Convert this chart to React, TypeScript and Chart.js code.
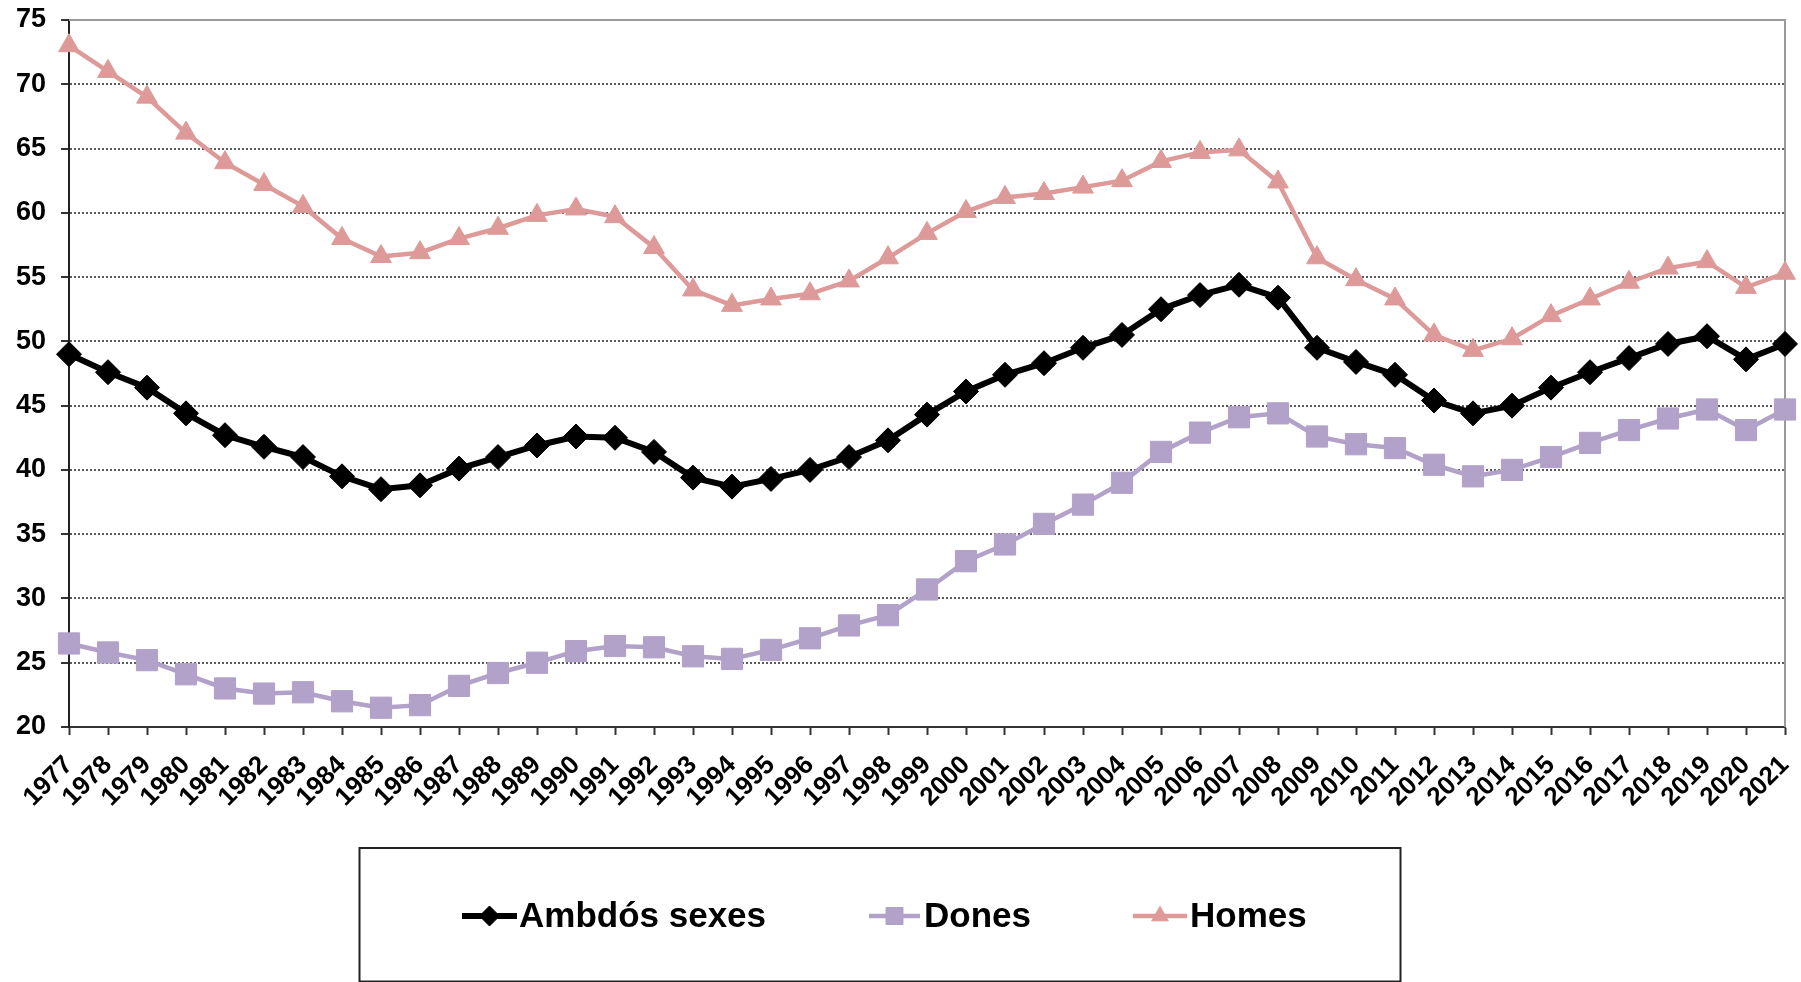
import React, { useEffect, useRef } from "react";
import { Chart, registerables } from "chart.js";
import { drawPoint } from "chart.js/helpers";

Chart.register(...registerables);

// Years on the category axis
const years = [
  "1977", "1978", "1979", "1980", "1981", "1982", "1983", "1984", "1985", "1986",
  "1987", "1988", "1989", "1990", "1991", "1992", "1993", "1994", "1995", "1996",
  "1997", "1998", "1999", "2000", "2001", "2002", "2003", "2004", "2005", "2006",
  "2007", "2008", "2009", "2010", "2011", "2012", "2013", "2014", "2015", "2016",
  "2017", "2018", "2019", "2020", "2021",
];

// Series values (%)
const ambdosSexes = [
  49.0, 47.6, 46.4, 44.4, 42.7, 41.8, 41.0, 39.5, 38.5, 38.8,
  40.1, 41.0, 41.9, 42.6, 42.5, 41.4, 39.4, 38.7, 39.3, 40.0,
  41.0, 42.3, 44.3, 46.1, 47.4, 48.3, 49.5, 50.5, 52.5, 53.6,
  54.4, 53.4, 49.5, 48.4, 47.4, 45.4, 44.4, 45.0, 46.4, 47.6,
  48.7, 49.8, 50.4, 48.6, 49.8,
];

const dones = [
  26.5, 25.8, 25.2, 24.1, 23.0, 22.6, 22.7, 22.0, 21.5, 21.7,
  23.2, 24.2, 25.0, 25.9, 26.3, 26.2, 25.5, 25.3, 26.0, 26.9,
  27.9, 28.7, 30.7, 32.9, 34.2, 35.8, 37.3, 39.0, 41.4, 42.9,
  44.1, 44.4, 42.6, 42.0, 41.7, 40.4, 39.5, 40.0, 41.0, 42.1,
  43.1, 44.0, 44.7, 43.1, 44.7,
];

const homes = [
  73.0, 71.0, 69.0, 66.2, 63.9, 62.2, 60.5, 58.0, 56.6, 56.9,
  58.0, 58.8, 59.8, 60.3, 59.7, 57.3, 54.0, 52.8, 53.3, 53.7,
  54.7, 56.5, 58.4, 60.1, 61.2, 61.5, 62.0, 62.5, 64.0, 64.7,
  64.9, 62.4, 56.5, 54.8, 53.3, 50.5, 49.3, 50.2, 52.0, 53.3,
  54.6, 55.7, 56.2, 54.2, 55.3,
];

const seriesNames = ["Ambdós sexes", "Dones", "Homes"];

const Y_MIN = 20;
const Y_MAX = 75;
const Y_STEP = 5;

const FONT = "'Liberation Sans', Arial, Helvetica, sans-serif";

// Frame lines on the top and right of the plot area
const plotFrame = {
  id: "plotFrame",
  beforeDatasetsDraw(chart: any) {
    const { ctx, chartArea } = chart;
    ctx.save();
    ctx.strokeStyle = "#9a9a9a";
    ctx.lineWidth = 2;
    ctx.beginPath();
    ctx.moveTo(chartArea.left, chartArea.top);
    ctx.lineTo(chartArea.right, chartArea.top);
    ctx.lineTo(chartArea.right, chartArea.bottom);
    ctx.stroke();
    ctx.restore();
  },
};

// Boxed legend under the axis, each entry a line segment with its marker
const boxedLegend = {
  id: "boxedLegend",
  afterDraw(chart: any) {
    const { ctx } = chart;
    const box = { left: 359.5, right: 1400.5, top: 848, bottom: 981.5 };
    const cy = 916;
    const entries = [
      { x1: 462, x2: 517, tx: 519 },
      { x1: 869, x2: 920, tx: 924 },
      { x1: 1133, x2: 1187, tx: 1190 },
    ];
    ctx.save();
    ctx.strokeStyle = "#222";
    ctx.lineWidth = 2;
    ctx.strokeRect(box.left, box.top, box.right - box.left, box.bottom - box.top);

    chart.data.datasets.forEach((ds: any, i: number) => {
      const e = entries[i];
      ctx.save();
      ctx.strokeStyle = ds.borderColor;
      ctx.lineWidth = ds.borderWidth;
      ctx.beginPath();
      ctx.moveTo(e.x1, cy);
      ctx.lineTo(e.x2, cy);
      ctx.stroke();
      ctx.fillStyle = ds.pointBackgroundColor;
      ctx.strokeStyle = ds.pointBorderColor;
      ctx.lineWidth = ds.pointBorderWidth;
      drawPoint(
        ctx,
        {
          pointStyle: ds.pointStyle,
          radius: ds.pointRadius * 0.8,
          rotation: 0,
          borderWidth: ds.pointBorderWidth,
        } as any,
        (e.x1 + e.x2) / 2,
        cy
      );
      ctx.restore();

      ctx.fillStyle = "#000";
      ctx.font = `bold 35px ${FONT}`;
      ctx.textAlign = "left";
      ctx.textBaseline = "middle";
      ctx.fillText(ds.label, e.tx, cy + 1);
    });
    ctx.restore();
  },
};

export default function App() {
  const canvasRef = useRef<HTMLCanvasElement | null>(null);

  useEffect(() => {
    document.body.style.margin = "0";
    document.body.style.overflow = "hidden";
    const canvas = canvasRef.current;
    if (!canvas) return;

    const chart = new Chart(canvas, {
      type: "line",
      data: {
        labels: years,
        datasets: [
          {
            label: seriesNames[0],
            data: ambdosSexes,
            borderColor: "#000000",
            backgroundColor: "#000000",
            borderWidth: 6,
            pointStyle: "rectRot",
            pointRadius: 12.5,
            pointBackgroundColor: "#000000",
            pointBorderColor: "#000000",
            pointBorderWidth: 1,
            tension: 0,
            clip: false,
          },
          {
            label: seriesNames[1],
            data: dones,
            borderColor: "#b2a1c8",
            backgroundColor: "#b2a1c8",
            borderWidth: 4.5,
            pointStyle: "rect",
            pointRadius: 15,
            pointBackgroundColor: "#b2a1c8",
            pointBorderColor: "#b2a1c8",
            pointBorderWidth: 1,
            tension: 0,
            clip: false,
          },
          {
            label: seriesNames[2],
            data: homes,
            borderColor: "#dd9a99",
            backgroundColor: "#dd9a99",
            borderWidth: 4.5,
            pointStyle: "triangle",
            pointRadius: 12,
            pointBackgroundColor: "#dd9a99",
            pointBorderColor: "#dd9a99",
            pointBorderWidth: 1,
            tension: 0,
            clip: false,
          },
        ],
      },
      options: {
        responsive: false,
        animation: false,
        events: [],
        layout: { padding: { left: 0, top: 20, right: 13, bottom: 0 } },
        plugins: {
          legend: { display: false },
          tooltip: { enabled: false },
          title: { display: false },
        },
        scales: {
          x: {
            type: "category",
            offset: false,
            afterFit(scale: any) {
              scale.height = 982 - 727;
              scale.paddingLeft = 0;
              scale.paddingRight = 0;
            },
            grid: {
              drawOnChartArea: false,
              drawTicks: true,
              tickLength: 8,
              tickColor: "#333",
              tickWidth: 2,
            },
            border: { display: true, color: "#333", width: 2 },
            ticks: {
              autoSkip: false,
              maxRotation: 45,
              minRotation: 45,
              padding: 15,
              color: "#000",
              font: { family: FONT, size: 26, weight: "bold" },
            },
          },
          y: {
            min: Y_MIN,
            max: Y_MAX,
            afterFit(scale: any) {
              scale.width = 69;
              scale.paddingTop = 0;
              scale.paddingBottom = 0;
            },
            grid: {
              color: (c: any) =>
                c.tick && (c.tick.value === Y_MAX || c.tick.value === Y_MIN)
                  ? "rgba(0,0,0,0)"
                  : "#5a5a5a",
              lineWidth: 2,
              drawTicks: true,
              tickLength: 8,
              tickColor: "#333",
              tickWidth: 2,
            },
            border: { display: true, color: "#222", width: 2, dash: [2, 2] },
            ticks: {
              stepSize: Y_STEP,
              padding: 15,
              color: "#000",
              font: { family: FONT, size: 27, weight: "bold" },
            },
          },
        },
      },
      plugins: [plotFrame, boxedLegend],
    });

    return () => chart.destroy();
  }, []);

  return (
    <div style={{ position: "absolute", left: 0, top: 0, width: 1801, height: 982 }}>
      <canvas ref={canvasRef} width={1801} height={982} style={{ display: "block" }} />
    </div>
  );
}
